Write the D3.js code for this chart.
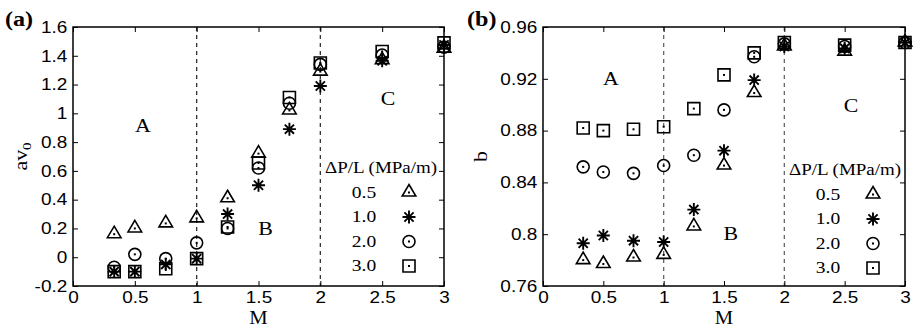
<!DOCTYPE html>
<html>
<head>
<meta charset="utf-8">
<script src="https://cdn.jsdelivr.net/npm/d3@7"></script>
<style>
  body { margin: 0; background: #fff; }
  .tick line { stroke: #000; stroke-width: 1; }
</style>
</head>
<body>
<div id="canvas"></div>
<script>
const canvWidth = 915, canvHeight = 335;

// M values (x) shared by both panels
const mValues = [0.333, 0.5, 0.75, 1.0, 1.25, 1.5, 1.75, 2.0, 2.5, 3.0];
const pressureLabels = ["0.5", "1.0", "2.0", "3.0"];
const markerTypes = ["triangle", "asterisk", "circle", "square"];

// panel (a): av0 for each dP/L
const av0_05 = [0.16, 0.20, 0.235, 0.27, 0.41, 0.72, 1.02, 1.29, 1.37, 1.45];
const av0_10 = [-0.10, -0.10, -0.05, -0.01, 0.30, 0.50, 0.89, 1.19, 1.365, 1.475];
const av0_20 = [-0.07, 0.02, -0.01, 0.10, 0.20, 0.62, 1.07, 1.34, 1.405, 1.46];
const av0_30 = [-0.10, -0.10, -0.08, -0.01, 0.21, 0.655, 1.11, 1.35, 1.43, 1.49];

// panel (b): b for each dP/L
const b_05 = [0.780, 0.777, 0.782, 0.784, 0.806, 0.853, 0.909, 0.945, 0.941, 0.948];
const b_10 = [0.793, 0.799, 0.795, 0.794, 0.819, 0.8645, 0.919, 0.945, 0.9435, 0.948];
const b_20 = [0.852, 0.848, 0.847, 0.853, 0.861, 0.896, 0.937, 0.947, 0.945, 0.948];
const b_30 = [0.882, 0.880, 0.881, 0.883, 0.897, 0.923, 0.940, 0.948, 0.946, 0.948];

const xTicks = [0, 0.5, 1, 1.5, 2, 2.5, 3];
const av0Ticks = [-0.2, 0, 0.2, 0.4, 0.6, 0.8, 1, 1.2, 1.4, 1.6];
const bTicks = [0.76, 0.8, 0.84, 0.88, 0.92, 0.96];
const boundaries = [1, 2];

const svg = d3.select("#canvas").append("svg")
    .attr("width", canvWidth)
    .attr("height", canvHeight);

const sansFont = "'Liberation Sans', Arial, sans-serif";
const serifFont = "'Liberation Serif', 'Times New Roman', serif";
const stretch = 1.15;   // the original figure is a bit wider than tall

function markerPath(type) {
    const p = d3.path();
    if (type === "triangle") {
        p.moveTo(0, -8); p.lineTo(6.8, 3.5); p.lineTo(-6.8, 3.5); p.closePath();
    } else if (type === "square") {
        p.rect(-6, -6, 12, 12);
    } else if (type === "circle") {
        p.moveTo(6, 0); p.arc(0, 0, 6, 0, 2 * Math.PI);
    } else {
        const r = 6.5;
        for (let k = 0; k < 4; k++) {
            const a = k * Math.PI / 4;
            p.moveTo(-r * Math.cos(a), -r * Math.sin(a));
            p.lineTo(r * Math.cos(a), r * Math.sin(a));
        }
    }
    return p.toString();
}

function drawMarker(g, type, x, y) {
    const m = g.append("g").attr("transform", "translate(" + x + "," + y + ")");
    m.append("path")
        .attr("d", markerPath(type))
        .attr("fill", "none")
        .attr("stroke", "#000")
        .attr("stroke-width", type === "asterisk" ? 1.9 : 1.6);
    if (type !== "asterisk") {
        m.append("rect").attr("x", -1).attr("y", -1).attr("width", 2).attr("height", 2).attr("fill", "#000");
    }
}

function addText(g, str, x, y, font, size, opts) {
    opts = opts || {};
    return g.append("text")
        .attr("transform", "translate(" + x + "," + y + ")" + (opts.rotate ? " rotate(" + opts.rotate + ")" : "") + " scale(" + stretch + ",1)")
        .attr("text-anchor", opts.anchor || "middle")
        .attr("font-family", font)
        .attr("font-size", size)
        .attr("font-weight", opts.weight || "normal")
        .text(str);
}

const fmt = d => String(+d.toFixed(2));

function drawPanel(cfg) {
    const x = d3.scaleLinear().domain([0, 3]).range([cfg.left, cfg.right]);
    const y = d3.scaleLinear().domain(cfg.yDomain).range([cfg.bottom, cfg.top]);
    const g = svg.append("g");

    // boundary lines between regions
    g.selectAll(".bound")
        .data(boundaries)
        .enter().append("line")
        .attr("x1", d => x(d)).attr("x2", d => x(d))
        .attr("y1", cfg.top).attr("y2", cfg.bottom)
        .attr("stroke", cfg.boundColor)
        .attr("stroke-width", 1.3)
        .attr("stroke-dasharray", "4,4");

    // axes with inward ticks on all four sides
    const axisStyle = (sel) => {
        sel.select(".domain").remove();
        sel.selectAll("text").attr("font-family", sansFont).attr("font-size", 16.5).attr("fill", "#000");
    };
    g.append("g").attr("transform", "translate(0," + cfg.bottom + ")")
        .call(d3.axisBottom(x).tickValues(xTicks).tickFormat(fmt).tickSizeInner(-5).tickSizeOuter(0).tickPadding(5))
        .call(axisStyle)
        .selectAll("text").attr("transform", "scale(" + stretch + ",1)");
    g.append("g").attr("transform", "translate(" + cfg.left + ",0)")
        .call(d3.axisLeft(y).tickValues(cfg.yTicks).tickFormat(fmt).tickSizeInner(-5).tickSizeOuter(0).tickPadding(5))
        .call(axisStyle)
        .selectAll("text").attr("transform", "scale(" + stretch + ",1)");
    g.append("g").attr("transform", "translate(0," + cfg.top + ")")
        .call(d3.axisTop(x).tickValues(xTicks).tickFormat("").tickSizeInner(-5).tickSizeOuter(0))
        .call(axisStyle);
    g.append("g").attr("transform", "translate(" + cfg.right + ",0)")
        .call(d3.axisRight(y).tickValues(cfg.yTicks).tickFormat("").tickSizeInner(-5).tickSizeOuter(0))
        .call(axisStyle);

    g.append("rect")
        .attr("x", cfg.left).attr("y", cfg.top)
        .attr("width", cfg.right - cfg.left).attr("height", cfg.bottom - cfg.top)
        .attr("fill", "none").attr("stroke", "#000").attr("stroke-width", 1.5);

    // data points
    cfg.series.forEach((vals, i) => {
        vals.forEach((v, j) => drawMarker(g, markerTypes[i], x(mValues[j]), y(v)));
    });

    // region labels
    cfg.regions.forEach(r => addText(g, r.name, x(r.m), y(r.v), serifFont, 19));

    // legend
    addText(g, "\u0394P/L (MPa/m)", cfg.legend.x, cfg.legend.y, serifFont, 16.5);
    pressureLabels.forEach((lab, i) => {
        const ly = cfg.legend.y + cfg.legend.dy * (i + 1);
        addText(g, lab, cfg.legend.x - 17, ly, serifFont, 17);
        drawMarker(g, markerTypes[i], cfg.legend.x + 28, ly - 5);
    });

    // axis titles
    addText(g, "M", (cfg.left + cfg.right) / 2, 324, serifFont, 18);
    const yl = addText(g, cfg.yLabel, cfg.yLabelX, (cfg.top + cfg.bottom) / 2, serifFont, 19, {rotate: -90});
    if (cfg.yLabelSub) {
        yl.append("tspan").attr("font-size", 13).attr("dy", 4).text(cfg.yLabelSub);
    }
    addText(g, cfg.tag, cfg.tagX, 26, serifFont, 21, {anchor: "start", weight: "bold"});
}

drawPanel({
    left: 73, right: 444, top: 27, bottom: 286,
    yDomain: [-0.2, 1.6], yTicks: av0Ticks,
    series: [av0_05, av0_10, av0_20, av0_30],
    regions: [{name: "A", m: 0.565, v: 0.87}, {name: "B", m: 1.556, v: 0.155}, {name: "C", m: 2.548, v: 1.058}],
    legend: {x: 381, y: 173, dy: 24.5},
    boundColor: "#333",
    yLabel: "av", yLabelSub: "0", yLabelX: 27,
    tag: "(a)", tagX: 5
});

drawPanel({
    left: 543, right: 905, top: 27, bottom: 286,
    yDomain: [0.76, 0.96], yTicks: bTicks,
    series: [b_05, b_10, b_20, b_30],
    regions: [{name: "A", m: 0.563, v: 0.915}, {name: "B", m: 1.557, v: 0.7955}, {name: "C", m: 2.552, v: 0.894}],
    legend: {x: 845, y: 175, dy: 24.5},
    boundColor: "#666",
    yLabel: "b", yLabelX: 487,
    tag: "(b)", tagX: 467
});
</script>
</body>
</html>
